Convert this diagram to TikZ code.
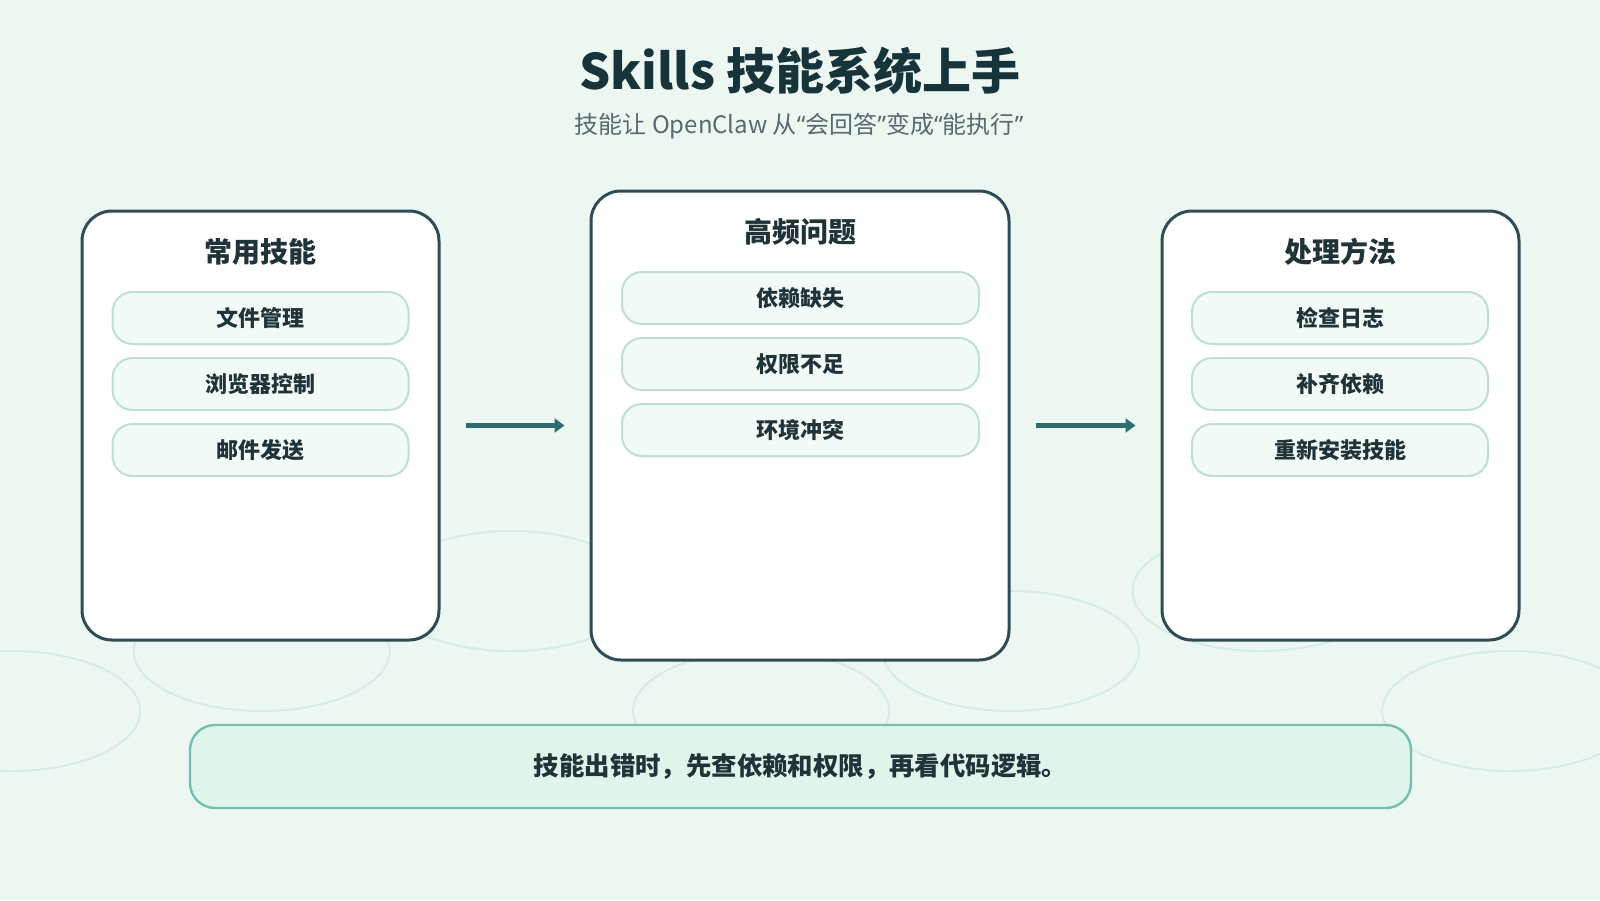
\documentclass[tikz,border=0pt]{standalone}
\usepackage{fontspec}
\setmainfont{Noto Sans CJK SC}
\newfontfamily\quotefont{Noto Sans}
\usetikzlibrary{arrows.meta}
\definecolor{bgmint}{HTML}{EDF7F1}
\definecolor{ringline}{HTML}{D4EDE7}
\definecolor{cardline}{HTML}{2F4B53}
\definecolor{pillfill}{HTML}{F2FAF7}
\definecolor{pillline}{HTML}{BEDFD8}
\definecolor{arrowteal}{HTML}{2E6B73}
\definecolor{tipfill}{HTML}{DFF5EB}
\definecolor{tipline}{HTML}{74BFAF}
\definecolor{titleink}{HTML}{17343A}
\definecolor{ink}{HTML}{1F3338}
\definecolor{subink}{HTML}{566A70}
\newcommand{\openq}{{\quotefont “}}
\newcommand{\closeq}{{\quotefont ”}}

\begin{document}
\begin{tikzpicture}[x=0.5pt, y=-0.5pt,
    ring/.style={draw=ringline, line width=1pt},
    card/.style={draw=cardline, line width=1.5pt, fill=white, rounded corners=15pt, inner sep=0pt},
    head/.style={font=\bfseries\fontsize{14}{16}\selectfont, text=ink},
    pill/.style={draw=pillline, line width=1pt, fill=pillfill, rounded corners=10pt,
        minimum height=26pt, inner sep=0pt, font=\bfseries\fontsize{11}{13}\selectfont, text=ink},
    flow/.style={draw=arrowteal, line width=2.5pt, -{Triangle[length=5pt, width=7pt]},
        shorten <=12.5pt, shorten >=12.5pt},
    tipbox/.style={draw=tipline, line width=1.2pt, fill=tipfill, rounded corners=12.5pt,
        inner sep=0pt, font=\bfseries\fontsize{12.7}{15}\selectfont, text=ink}]
    \useasboundingbox[fill=bgmint] (0,0) rectangle (1600,900);

    % background rings
    \foreach \i in {0,...,6}
        \draw[ring] ({12+249.7*\i}, {711-60*mod(\i,3)}) ellipse [x radius=128, y radius=60];

    \node[font=\bfseries\fontsize{24.5}{28}\selectfont, text=titleink] (title) at (800,71) {Skills 技能系统上手};
    \node[font=\fontsize{12}{14}\selectfont, text=subink] (subtitle) at (799,126) {技能让 OpenClaw 从\openq 会回答\closeq 变成\openq 能执行\closeq};

    \node[card, minimum width=178.5pt, minimum height=214.5pt] (skills) at (260.5,425.5) {};
    \node[card, minimum width=209pt, minimum height=234.5pt] (issues) at (800,425.5) {};
    \node[card, minimum width=178.5pt, minimum height=214.5pt] (fixes) at (1340.5,425.5) {};

    \node[head] (skillshead) at (260.5,252) {常用技能};
    \node[head] (issueshead) at (800,232) {高频问题};
    \node[head] (fixeshead) at (1340.5,252) {处理方法};

    \foreach \t [count=\k] in {文件管理, 浏览器控制, 邮件发送}
        \node[pill, minimum width=148pt] (skill\k) at (260.5, {252+66*\k}) {\t};
    \foreach \t [count=\k] in {依赖缺失, 权限不足, 环境冲突}
        \node[pill, minimum width=178.5pt] (issue\k) at (800.5, {232+66*\k}) {\t};
    \foreach \t [count=\k] in {检查日志, 补齐依赖, 重新安装技能}
        \node[pill, minimum width=148pt] (fix\k) at (1340, {252+66*\k}) {\t};

    \draw[flow] (skills.east) -- (issues.west);
    \draw[flow] (issues.east) -- (fixes.west);

    \node[tipbox, minimum width=610.5pt, minimum height=41.5pt] (tip) at (800.5,766.5) {技能出错时，先查依赖和权限，再看代码逻辑。};
\end{tikzpicture}
\end{document}
